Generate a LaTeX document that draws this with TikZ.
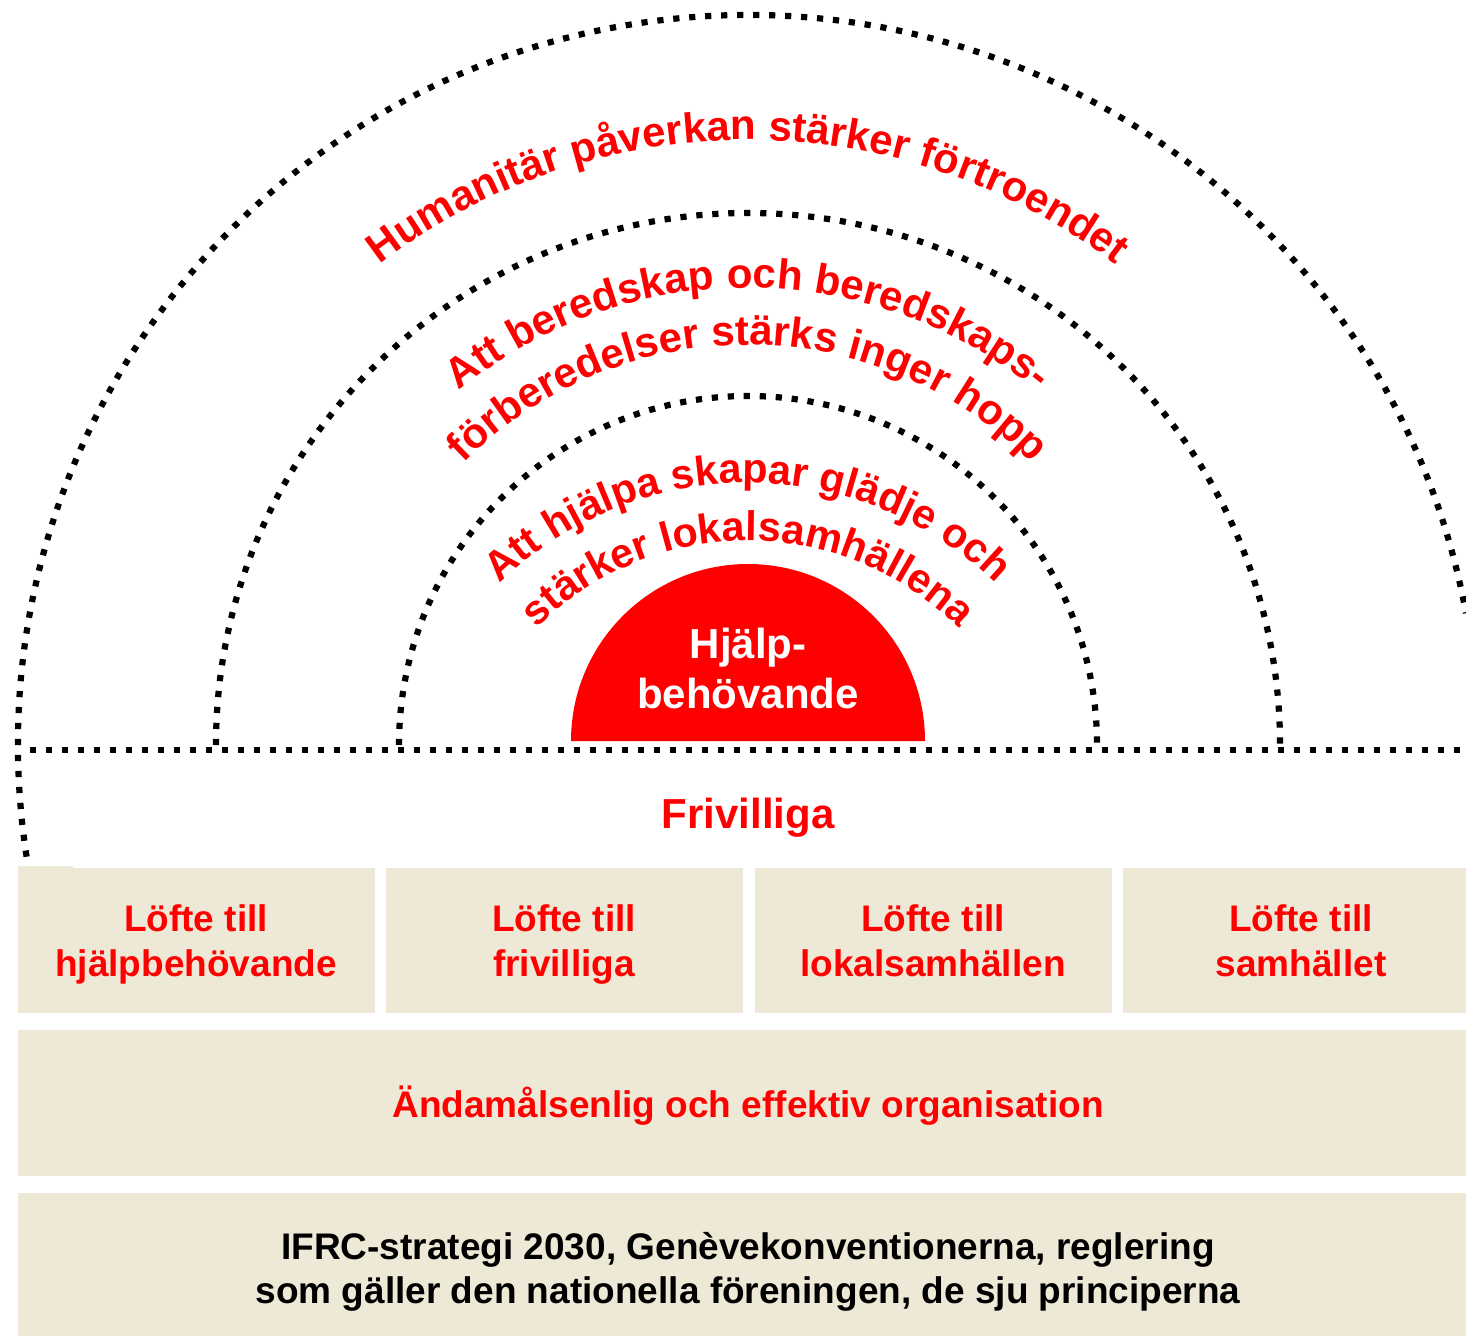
\documentclass[tikz,border=0pt]{standalone}
\usepackage{fontspec}
\setmainfont{Liberation Sans}
\usetikzlibrary{decorations.text,calc}
\definecolor{beige}{RGB}{238,232,214}
\definecolor{myred}{RGB}{255,0,0}
\newcommand\arcfont{\fontsize{21pt}{25pt}\selectfont\bfseries}
\newcommand\arcfontin{\fontsize{20.7pt}{24pt}\selectfont\bfseries}
\begin{document}
\begin{tikzpicture}[x=0.5pt,y=0.5pt,
  dotline/.style={line width=3.1pt, dash pattern=on 3.1pt off 4.9pt, line cap=butt},
  bigtxt/.style={font=\fontsize{21pt}{25pt}\selectfont\bfseries, text=myred, inner sep=0pt, anchor=base},
  boxtxt/.style={font=\fontsize{18.5pt}{23pt}\selectfont\bfseries, text=myred, inner sep=0pt, anchor=base},
  blacktxt/.style={font=\fontsize{18.5pt}{23pt}\selectfont\bfseries, text=black, inner sep=0pt, anchor=base}
]
\useasboundingbox (0,0) rectangle (1466,-1336);
\clip (0,0) rectangle (1466,-1336);
\coordinate (C) at (748,-745);
\coordinate (Ci) at (748,-840);
\coordinate (D) at (748,-741);

% beige boxes
\fill[beige] (18,-868) rectangle (375,-1013);
\fill[beige] (18,-866) rectangle (73,-869);
\fill[beige] (386,-868) rectangle (743,-1013);
\fill[beige] (755,-868) rectangle (1112,-1013);
\fill[beige] (1123,-868) rectangle (1480,-1013);
\fill[beige] (18,-1030) rectangle (1480,-1176);
\fill[beige] (18,-1193) rectangle (1480,-1340);

% dotted arcs and line
\draw[dotline] ($(C)+(188.8:730)$) arc[start angle=188.8, end angle=10.4, radius=730];
\draw[dotline] ($(C)+(180:532)$) arc[start angle=180, end angle=0, radius=532];
\draw[dotline] ($(C)+(180:349)$) arc[start angle=180, end angle=0, radius=349];
\draw[dotline] (30,-750) -- (1466,-750);

% red half disc
\fill[myred] ($(D)+(180:177)$) arc[start angle=180, end angle=0, radius=177] -- cycle;
\node[bigtxt, text=white] (h1) at (748,-658) {Hjälp-};
\node[bigtxt, text=white] (h2) at (748,-708) {behövande};

% arc texts
\path[decorate, decoration={text along path, text align=center, text color=myred,
  text={|\arcfont|Humanitär påverkan stärker förtroendet}}]
  ($(C)+(170:605)$) arc[start angle=170, end angle=10, radius=605];
\path[decorate, decoration={text along path, text align=center, text color=myred,
  text={|\arcfont|Att beredskap och beredskaps-}}]
  ($(C)+(170:457)$) arc[start angle=170, end angle=10, radius=457];
\path[decorate, decoration={text along path, text align=center, text color=myred,
  text={|\arcfont|förberedelser stärks inger hopp}}]
  ($(C)+(175:400)$) arc[start angle=175, end angle=5, radius=400];
\path[decorate, decoration={text along path, text align=center, text color=myred,
  text={|\arcfontin|Att hjälpa skapar glädje och}}]
  ($(Ci)+(170:357)$) arc[start angle=170, end angle=10, radius=357];
\path[decorate, decoration={text along path, text align=center, text color=myred,
  text={|\arcfontin|stärker lokalsamhällena}}]
  ($(Ci)+(170:299)$) arc[start angle=170, end angle=10, radius=299];

% Frivilliga
\node[bigtxt] (friv) at (748,-828) {Frivilliga};

% box texts
\node[boxtxt] (a1) at (196,-931) {Löfte till};
\node[boxtxt] (a2) at (196,-976) {hjälpbehövande};
\node[boxtxt] (b1) at (564,-931) {Löfte till};
\node[boxtxt] (b2) at (564,-976) {frivilliga};
\node[boxtxt] (c1) at (933,-931) {Löfte till};
\node[boxtxt] (c2) at (933,-976) {lokalsamhällen};
\node[boxtxt] (d1) at (1301,-931) {Löfte till};
\node[boxtxt] (d2) at (1301,-976) {samhället};
\node[boxtxt] (org) at (748,-1117) {Ändamålsenlig och effektiv organisation};
\node[blacktxt] (ifrc1) at (748,-1259) {IFRC-strategi 2030, Genèvekonventionerna, reglering};
\node[blacktxt] (ifrc2) at (748,-1303) {som gäller den nationella föreningen, de sju principerna};
\end{tikzpicture}
\end{document}
